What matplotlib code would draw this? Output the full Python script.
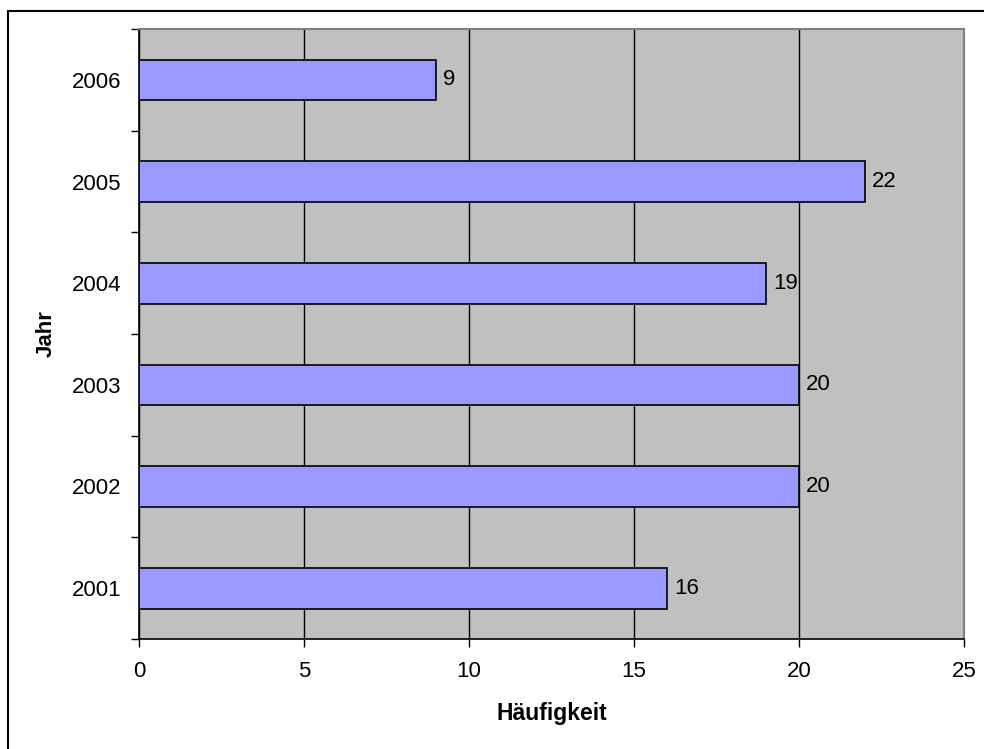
import numpy as np
import matplotlib.pyplot as plt
from matplotlib.patches import Rectangle

# Haeufigkeit pro Jahr
jahre = ['2001', '2002', '2003', '2004', '2005', '2006']
haeufigkeit = [16, 20, 20, 19, 22, 9]
xticks = [0, 5, 10, 15, 20, 25]

plt.rcParams['font.family'] = ['Liberation Sans', 'DejaVu Sans']

fig = plt.figure(figsize=(9.84, 7.49), dpi=100)
ax = fig.add_axes([139/984, 1-639/749, 825/984, 610/749])

# chart frame (left and top edges visible)
fig.patches.append(Rectangle((8/984, -0.05), 1.2, 1.05 - 11/749,
                             transform=fig.transFigure, fill=False,
                             edgecolor='black', linewidth=1.5))

ax.set_facecolor('#c0c0c0')
y = np.arange(len(jahre))
bars = ax.barh(y, haeufigkeit, height=0.4, color='#9999ff',
               edgecolor='black', linewidth=1.2, zorder=3)

for yi, v in zip(y, haeufigkeit):
    ax.text(v + 0.22, yi, str(v), va='center', ha='left', fontsize=16, zorder=4)

ax.set_xlim(0, 25)
ax.set_ylim(-0.5, len(jahre) - 0.5)
ax.set_xticks(xticks)
ax.set_xticklabels([str(t) for t in xticks], fontsize=16)
ax.set_yticks(y)
ax.set_yticklabels(jahre, fontsize=16)
ax.tick_params(axis='y', which='major', length=0, pad=12.5)
ax.set_yticks(np.arange(-0.5, len(jahre)), minor=True)
ax.tick_params(axis='y', which='minor', length=6, width=1, direction='out')
ax.tick_params(axis='x', length=6, width=1, direction='out', pad=10)

ax.grid(axis='x', color='black', linewidth=1, zorder=1)
ax.set_axisbelow(True)

for side in ['top', 'right']:
    ax.spines[side].set_color('#808080')
    ax.spines[side].set_linewidth(1.5)
for side in ['left', 'bottom']:
    ax.spines[side].set_color('black')
    ax.spines[side].set_linewidth(1.2)

ax.set_xlabel('Häufigkeit', fontsize=16.5, fontweight='bold', labelpad=14)
ax.set_ylabel('Jahr', fontsize=16, fontweight='bold', labelpad=11)

fig.savefig('out.png', dpi=100)
